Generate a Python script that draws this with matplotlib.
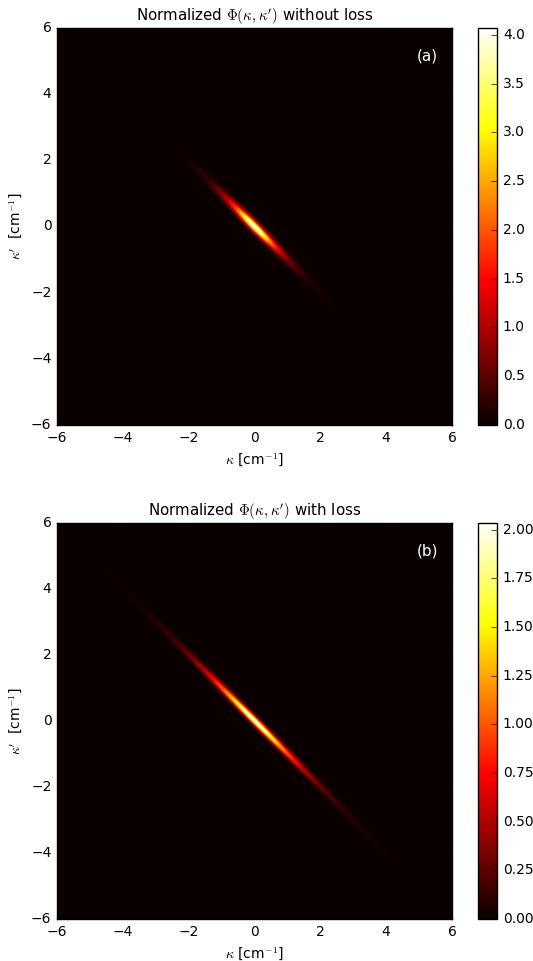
import numpy as np
import matplotlib
matplotlib.use("Agg")
import matplotlib.pyplot as plt

# panel settings
titles = [r"Normalized $\Phi(\kappa,\kappa')$ without loss",
          r"Normalized $\Phi(\kappa,\kappa')$ with loss"]
tags = ["(a)", "(b)"]
peak = [4.07, 2.035]          # colorbar top = image max
width_along = [0.6, 1.1]      # sech width along the anti-diagonal
width_across = [0.085, 0.068] # gaussian width across it
cbar_ticks = [np.arange(0, 4.01, 0.5), np.arange(0, 2.01, 0.25)]
cbar_fmt = ["%.1f", "%.2f"]
axis_ticks = [-6, -4, -2, 0, 2, 4, 6]
extent = [-6, 6, -6, 6]

plt.style.use("classic")
plt.rcParams["font.size"] = 10

k = np.linspace(-6, 6, 301)
K, Kp = np.meshgrid(k, k)
along = (K - Kp) / np.sqrt(2)
across = (K + Kp) / np.sqrt(2)

fig = plt.figure(figsize=(5.33, 9.61), dpi=100, facecolor="white")
ax_rects = [[0.107, 0.5578, 0.741, 0.4131], [0.107, 0.0437, 0.741, 0.4121]]
cb_rects = [[0.897, 0.5578, 0.036, 0.4131], [0.897, 0.0437, 0.036, 0.4121]]

for i in range(2):
    phi = peak[i] * np.exp(-across ** 2 / (2 * width_across[i] ** 2)) \
        / np.cosh(along / width_along[i])
    ax = fig.add_axes(ax_rects[i])
    im = ax.imshow(phi, cmap="hot", origin="lower", extent=extent,
                   vmin=0, vmax=peak[i], interpolation="bilinear", aspect="auto")
    ax.set_xticks(axis_ticks)
    ax.set_yticks(axis_ticks)
    ax.set_xlabel(r"$\kappa$ [cm$^{-1}$]")
    ax.set_ylabel(r"$\kappa'$  [cm$^{-1}$]", labelpad=5)
    ax.set_title(titles[i], fontsize=10.8)
    ax.text(0.965, 0.93, tags[i], color="white", ha="right", va="center",
            transform=ax.transAxes, fontsize=11)
    cax = fig.add_axes(cb_rects[i])
    cb = fig.colorbar(im, cax=cax, ticks=cbar_ticks[i], format=cbar_fmt[i])

fig.savefig("out.png", dpi=100, facecolor="white")
